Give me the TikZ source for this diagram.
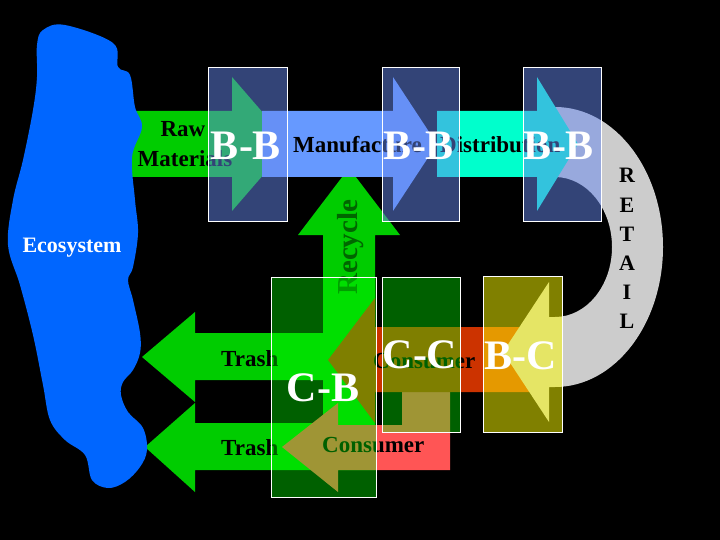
\documentclass[tikz,border=0pt]{standalone}
\usepackage{fontspec}
\setmainfont{Liberation Serif}
\definecolor{eco}{RGB}{0,102,255}
\definecolor{raw}{RGB}{0,204,0}
\definecolor{manu}{RGB}{102,153,255}
\definecolor{dist}{RGB}{0,255,204}
\definecolor{retail}{RGB}{204,204,204}
\definecolor{cons}{RGB}{204,51,0}
\definecolor{waste}{RGB}{255,85,85}
\definecolor{bbfill}{RGB}{102,136,238}
\definecolor{cfill}{RGB}{0,255,0}
\definecolor{yfill}{RGB}{255,255,0}
\definecolor{recy}{RGB}{0,102,0}

\begin{document}
\begin{tikzpicture}[x=1pt,y=-1pt]
            \tikzset{
                lbl/.style={font=\fontsize{23}{26}\selectfont\bfseries, inner sep=0pt, anchor=base west},
                big/.style={font=\fontsize{42}{46}\selectfont\bfseries, text=white, inner sep=0pt},
                bbbox/.style={draw=white, line width=0.8pt, fill=bbfill, fill opacity=0.5},
                cbbox/.style={draw=white, line width=0.8pt, fill=cfill, fill opacity=0.375},
                ybbox/.style={draw=white, line width=0.8pt, fill=yfill, fill opacity=0.5},}
            \useasboundingbox (0,0) rectangle (720,540);
            \fill[black] (0,0) rectangle (720,540);
            % trash and recycle
            \fill[raw] (349,168) -- (400,235) -- (375,235) -- (375,470) -- (195,470) -- (195,492) -- (145,447)
                -- (195,403) -- (195,423) -- (323,423) -- (323,380) -- (195,380) -- (195,402) -- (142,357)
                -- (195,312) -- (195,333) -- (323,333) -- (323,235) -- (298,235) -- cycle;
            \fill[waste] (282,447) -- (338,403) -- (338,425) -- (402,425) -- (402,360) -- (450,360)
                -- (450,470) -- (338,470) -- (338,492) -- cycle;
            \fill[cons] (328,360) -- (375,298) -- (375,327) -- (530,327) -- (530,392) -- (375,392) -- (375,423) -- cycle;
            % retail u-turn
            \fill[retail] (555,107) arc[start angle=-90, end angle=90, x radius=108, y radius=140]
                -- (549,387) -- (549,422) -- (503,352) -- (549,282) -- (549,317) -- (555,317)
                arc[start angle=90, end angle=-90, x radius=57, y radius=70] -- cycle;
            % supply chain
            \fill[raw] (120,111) -- (232,111) -- (232,77) -- (290,144) -- (232,211) -- (232,177) -- (120,177) -- cycle;
            \fill[dist] (437,111) -- (537,111) -- (537,77) -- (578,144) -- (537,211) -- (537,177) -- (437,177) -- cycle;
            \fill[manu] (262,111) -- (393,111) -- (393,77) -- (437,144) -- (393,211) -- (393,177) -- (262,177) -- cycle;
            \fill[eco] plot[smooth cycle, tension=0.6] coordinates {(43,30) (65,25) (113,43) (118,67) (130,75)
                (135,107) (142,127) (132,157) (135,200) (138,233) (133,267) (128,280) (133,300) (140,333)
                (140,353) (133,370) (123,382) (121,395) (128,412) (143,428) (147,450) (140,467) (125,482)
                (108,488) (92,480) (85,455) (65,440) (50,420) (43,385) (33,335) (20,285) (8,245) (13,200)
                (23,160) (33,110) (37,77) (37,45)};

            \node[lbl, anchor=base, text=white, font=\fontsize{22}{26}\selectfont\bfseries] (eco) at (72,252) {Ecosystem};
            \node[lbl, anchor=base] (raw) at (183,137) {Raw};
            \node[lbl, anchor=base] (mat) at (185,167) {Materials};
            \node[lbl] (manu) at (293,153) {Manufacture};
            \node[lbl] (dist) at (440,153) {Distribution};
            \node[lbl, text=recy, rotate=90, font=\fontsize{29}{32}\selectfont\bfseries] (recy) at (357,295) {Recycle};
            \node[lbl] (trash1) at (221,366) {Trash};
            \node[lbl] (trash2) at (221,455) {Trash};
            \node[lbl] (cons1) at (373,368) {Consumer};
            \node[lbl] (cons2) at (322,452) {Consumer};
            \foreach \l [count=\i] in {R,E,T,A,I,L}
                \node[lbl, anchor=base, font=\fontsize{22}{26}\selectfont\bfseries] (ret\i) at (627,154+29*\i) {\l};

            % trade boxes
            \filldraw[bbbox] (208,67) rectangle (287,221);
            \filldraw[bbbox] (382,67) rectangle (459,221);
            \filldraw[bbbox] (523,67) rectangle (601,221);
            \filldraw[cbbox] (271,277) rectangle (376,497);
            \filldraw[cbbox] (382,277) rectangle (460,432);
            \filldraw[ybbox] (483,276) rectangle (562,432);
            \node[big] (bb1) at (246,146) {B-B};
            \node[big] (bb2) at (419,146) {B-B};
            \node[big] (bb3) at (559,146) {B-B};
            \node[big] (cb) at (323,388) {C-B};
            \node[big] (cc) at (420,355) {C-C};
            \node[big] (bc) at (521,356) {B-C};
        \end{tikzpicture}
\end{document}
